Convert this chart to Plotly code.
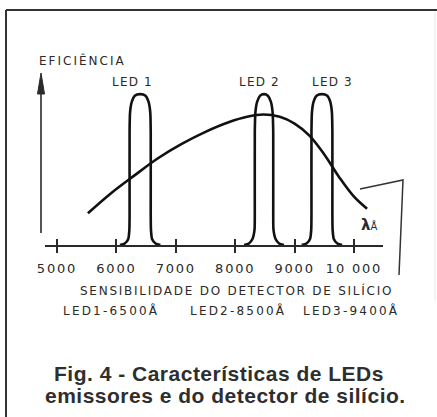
import plotly.graph_objects as go

# Silicon detector relative sensitivity vs wavelength (Angstrom)
detector_wl = [5520, 5900, 6300, 6700, 7100, 7500, 7900, 8200, 8470, 8750, 9000, 9250, 9500, 9750, 10000, 10220]
detector_eff = [0.21, 0.34, 0.46, 0.575, 0.67, 0.75, 0.815, 0.85, 0.865, 0.85, 0.805, 0.725, 0.60, 0.45, 0.32, 0.24]

# Emission bands of the three LEDs (normalised to 1)
led_eff = [0, 0.01, 0.04, 0.10, 0.2, 0.75, 0.88, 0.95, 0.99, 1.0, 0.99, 0.95, 0.88, 0.75, 0.2, 0.10, 0.04, 0.01, 0]
led1_wl = [6060, 6140, 6200, 6218, 6222, 6222, 6230, 6260, 6310, 6400, 6490, 6540, 6570, 6578, 6578, 6582, 6600, 6660, 6740]
led2_wl = [8150, 8230, 8290, 8325, 8330, 8330, 8340, 8370, 8420, 8485, 8550, 8600, 8630, 8640, 8640, 8645, 8680, 8740, 8820]
led3_wl = [9120, 9200, 9260, 9280, 9284, 9284, 9292, 9320, 9370, 9460, 9550, 9600, 9628, 9636, 9636, 9640, 9660, 9720, 9800]
led_names = ["LED 1", "LED 2", "LED 3"]
led_label_wl = [6263, 8401, 9630]

tick_vals = [5000, 6000, 7000, 8000, 9000, 10000]
tick_text = ["5000", "6000", "7000", "8000", "9000", "10 000"]

legend_items = ["LED1-6500Å", "LED2-8500Å", "LED3-9400Å"]

W, H = 437, 417
L, R, T, B = 45, 54, 64, 172
PW, PH = W - L - R, H - T - B
AXIS_Y = H - B
INK = "#2a2a2a"
LABEL_FONT = "DejaVu Sans"


def px(x):
    return (x - L) / PW


def py(y):
    return (AXIS_Y - y) / PH


def spaced(s, sp=1.2):
    return f'<span style="letter-spacing:{sp}px">{s}</span>'


fig = go.Figure()

fig.add_trace(go.Scatter(
    x=detector_wl, y=detector_eff, mode="lines",
    line=dict(color="#111111", width=2.6, shape="spline", smoothing=1.0),
    hoverinfo="skip", showlegend=False,
))
for wl in (led1_wl, led2_wl, led3_wl):
    fig.add_trace(go.Scatter(
        x=wl, y=led_eff, mode="lines",
        line=dict(color="#111111", width=2.6, shape="spline", smoothing=0.6),
        hoverinfo="skip", showlegend=False,
    ))

# dummy trace to host the inward-facing ticks on a twin axis
fig.add_trace(go.Scatter(x=[tick_vals[0]], y=[0], xaxis="x2", mode="markers",
                         marker=dict(opacity=0), hoverinfo="skip", showlegend=False))

x_range = [5000 - (57 - L) / 0.0594, 5000 - (57 - L) / 0.0594 + PW / 0.0594]

fig.update_layout(
    width=W, height=H,
    margin=dict(l=L, r=R, t=T, b=B),
    paper_bgcolor="white", plot_bgcolor="white",
    xaxis=dict(
        range=x_range, tickvals=tick_vals, ticktext=[spaced(t, 1.8) for t in tick_text],
        ticks="outside", ticklen=6, tickwidth=1.6, tickcolor=INK,
        showline=True, linecolor=INK, linewidth=2,
        showgrid=False, zeroline=False, ticklabelstandoff=4,
        tickfont=dict(family=LABEL_FONT, size=13, color=INK),
    ),
    xaxis2=dict(
        range=x_range, overlaying="x", side="bottom", matches="x",
        tickvals=tick_vals, ticks="inside", ticklen=6, tickwidth=1.6, tickcolor=INK,
        showticklabels=False, showgrid=False, zeroline=False, showline=False,
    ),
    yaxis=dict(range=[0, 1.2], visible=False),
)

shapes = []
# frame
shapes.append(dict(type="line", xref="paper", yref="paper", x0=px(6), x1=px(437), y0=py(10), y1=py(10),
                   line=dict(color="#333333", width=2)))
shapes.append(dict(type="line", xref="paper", yref="paper", x0=px(6), x1=px(6), y0=py(10), y1=py(420),
                   line=dict(color="#333333", width=2)))
shapes.append(dict(type="line", xref="paper", yref="paper", x0=px(435), x1=px(435), y0=py(12), y1=py(300),
                   line=dict(color="#e8e8e8", width=1)))
# efficiency axis with arrow
shapes.append(dict(type="line", xref="paper", yref="paper", x0=px(41), x1=px(41), y0=py(233), y1=py(88),
                   line=dict(color=INK, width=1.6)))
shapes.append(dict(type="path", xref="paper", yref="paper",
                   path=f"M{px(37.5)},{py(94)} L{px(41)},{py(73)} L{px(44.5)},{py(94)} Z",
                   fillcolor=INK, line=dict(color=INK, width=1)))
# bracket on the right
shapes.append(dict(type="path", xref="paper", yref="paper",
                   path=f"M{px(360)},{py(189)} L{px(403)},{py(180)} L{px(399)},{py(275)}",
                   line=dict(color="#333333", width=1.5)))
fig.update_layout(shapes=shapes)

ann = []
ann.append(dict(text=spaced("EFICIÊNCIA", 2.0), xref="paper", yref="paper", x=px(37), y=py(60),
                xanchor="left", yanchor="middle", showarrow=False,
                font=dict(family=LABEL_FONT, size=12, color=INK)))
for name, wl in zip(led_names, led_label_wl):
    ann.append(dict(text=spaced(name, 1.2), x=wl, y=py(82), xref="x", yref="paper",
                    xanchor="center", yanchor="middle", showarrow=False,
                    font=dict(family=LABEL_FONT, size=12, color=INK)))
ann.append(dict(text="<b>λ</b><span style='font-size:10px'>Å</span>", xref="paper", yref="paper",
                x=px(369), y=py(225), xanchor="center", yanchor="middle", showarrow=False,
                font=dict(family=LABEL_FONT, size=15, color=INK)))
ann.append(dict(text=spaced("SENSIBILIDADE DO DETECTOR DE SILÍCIO", 1.75), xref="paper", yref="paper",
                x=px(236), y=py(290), xanchor="center", yanchor="middle", showarrow=False,
                font=dict(family=LABEL_FONT, size=12, color=INK)))
for item, cx in zip(legend_items, [111, 238, 351]):
    ann.append(dict(text=spaced(item, 2.2), xref="paper", yref="paper",
                    x=px(cx), y=py(310), xanchor="center", yanchor="middle", showarrow=False,
                    font=dict(family=LABEL_FONT, size=12, color=INK)))
ann.append(dict(text=spaced("<b>Fig. 4 - Características de LEDs</b>", 0.5), xref="paper", yref="paper",
                x=px(219), y=py(373), xanchor="center", yanchor="middle", showarrow=False,
                font=dict(family="Liberation Sans", size=21, color="#2e2e2e")))
ann.append(dict(text=spaced("<b>emissores e do detector de silício.</b>", 0.5), xref="paper", yref="paper",
                x=px(225), y=py(395), xanchor="center", yanchor="middle", showarrow=False,
                font=dict(family="Liberation Sans", size=21, color="#2e2e2e")))
fig.update_layout(annotations=ann)

fig.write_html("out.html")
